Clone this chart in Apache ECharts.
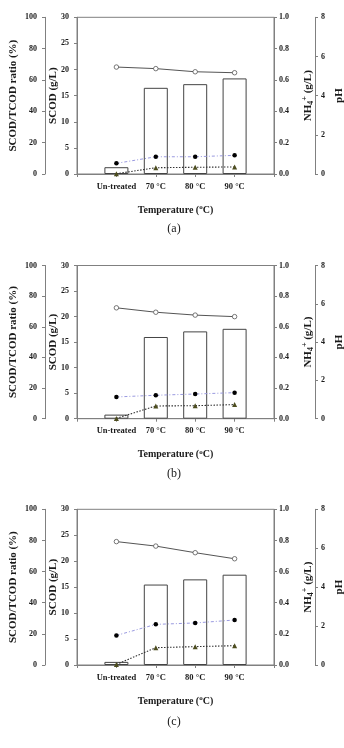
<!DOCTYPE html>
<html>
<head>
<meta charset="utf-8">
<script src="https://cdn.jsdelivr.net/npm/echarts@6/dist/echarts.min.js"></script>
<style>
html,body{margin:0;padding:0;background:#fff;}
#chart{width:344px;height:748px;}
</style>
</head>
<body>
<div id="chart"></div>
<script>
// ---- data ----
const categories = ['', 'Un-treated', '70 °C', '80 °C', '90 °C', ''];

// panel (a)
const scodA  = [1.3, 16.5, 17.2, 18.3];
const phA    = [5.46, 5.38, 5.22, 5.17];
const nh4A   = [0.068, 0.110, 0.110, 0.119];
const ratioA = [0.2, 4.0, 4.3, 4.5];

// panel (b)
const scodB  = [0.8, 16.0, 17.1, 17.6];
const phB    = [5.79, 5.56, 5.41, 5.33];
const nh4B   = [0.142, 0.153, 0.161, 0.170];
const ratioB = [0.2, 8.3, 8.5, 9.2];

// panel (c)
const scodC  = [0.6, 15.5, 16.5, 17.4];
const phC    = [6.34, 6.11, 5.77, 5.46];
const nh4C   = [0.190, 0.261, 0.270, 0.289];
const ratioC = [0.4, 11.1, 11.8, 12.4];

const panelLabels = ['(a)', '(b)', '(c)'];
const panelData = [
  {scod: scodA, ph: phA, nh4: nh4A, ratio: ratioA},
  {scod: scodB, ph: phB, nh4: nh4B, ratio: ratioB},
  {scod: scodC, ph: phC, nh4: nh4C, ratio: ratioC}
];

// ---- layout ----
const gridTops = [17.3, 265.5, 509.3];
const gridHeights = [156.7, 153.2, 155.7];
const labelYs = [229, 474, 722];
const GRID_LEFT = 77, GRID_W = 197, RATIO_OFF = 32, PH_OFF = 41;

const FONT = 'Liberation Serif, Times New Roman, serif';
const AX = '#808080';
const TXT = '#1a1a1a';

function pad(arr) { return ['-'].concat(arr, ['-']); }

const grids = [], xAxes = [], yAxes = [], series = [], graphics = [];

panelData.forEach((p, i) => {
  grids.push({left: GRID_LEFT, width: GRID_W, top: gridTops[i], height: gridHeights[i],
    outerBoundsMode: 'none', containLabel: false,
    show: true, borderColor: AX, borderWidth: 1, backgroundColor: 'transparent'});
  xAxes.push({
    type: 'category', gridIndex: i, data: categories, boundaryGap: false,
    axisLine: {lineStyle: {color: AX, width: 1}},
    axisTick: {show: true, length: 3, lineStyle: {color: AX}},
    axisLabel: {interval: 0, margin: 8, fontFamily: FONT, fontWeight: 'bold', fontSize: 8.5, color: TXT},
    name: '{t|Temperature (}{s|o}{t|C)}',
    nameLocation: 'middle', nameGap: 30, nameMoveOverlap: false,
    nameTextStyle: {rich: {
      t: {fontFamily: FONT, fontWeight: 'bold', fontSize: 10, color: TXT, lineHeight: 12},
      s: {fontFamily: FONT, fontWeight: 'bold', fontSize: 7, color: TXT, verticalAlign: 'top', lineHeight: 8}
    }}
  });
  const lbl = {fontFamily: FONT, fontWeight: 'bold', fontSize: 8, color: TXT};
  const nameStyle = {fontFamily: FONT, fontWeight: 'bold', fontSize: 11, color: TXT};
  function yAx(extra) {
    return Object.assign({
      type: 'value', gridIndex: i,
      splitLine: {show: false},
      axisLine: {show: true, onZero: false, lineStyle: {color: AX, width: 1}},
      axisTick: {show: true, length: 3, lineStyle: {color: AX}},
      nameLocation: 'middle', nameRotate: 90, nameMoveOverlap: false
    }, extra);
  }
  // ratio axis (outer left)
  yAxes.push(yAx({
    position: 'left', offset: RATIO_OFF, min: 0, max: 100, interval: 20,
    axisLabel: Object.assign({margin: 8}, lbl),
    name: 'SCOD/TCOD ratio (%)', nameGap: 26, nameTextStyle: nameStyle
  }));
  // SCOD axis
  yAxes.push(yAx({
    position: 'left', offset: 0, min: 0, max: 30, interval: 5,
    axisLabel: Object.assign({margin: 8}, lbl),
    name: 'SCOD (g/L)', nameGap: 18, nameTextStyle: nameStyle
  }));
  // NH4 axis
  yAxes.push(yAx({
    position: 'right', offset: 0, min: 0, max: 1, interval: 0.2,
    axisLabel: Object.assign({margin: 5, formatter: v => v.toFixed(1)}, lbl),
    name: '{t|NH}{sub|4}{sup|+}{t| (g/L)}', nameGap: 27,
    nameTextStyle: {rich: {
      t: {fontFamily: FONT, fontWeight: 'bold', fontSize: 11, color: TXT, lineHeight: 14},
      sub: {fontFamily: FONT, fontWeight: 'bold', fontSize: 8, color: TXT, verticalAlign: 'bottom', lineHeight: 8},
      sup: {fontFamily: FONT, fontWeight: 'bold', fontSize: 8, color: TXT, verticalAlign: 'top', lineHeight: 8}
    }}
  }));
  // pH axis (outer right)
  yAxes.push(yAx({
    position: 'right', offset: PH_OFF, min: 0, max: 8, interval: 2,
    axisLabel: Object.assign({margin: 6}, lbl),
    name: 'pH', nameGap: 19, nameTextStyle: nameStyle
  }));
  const yb = i * 4;
  series.push({
    type: 'bar', xAxisIndex: i, yAxisIndex: yb + 1, data: pad(p.scod), barWidth: 24, z: 1,
    itemStyle: {color: '#fff', borderColor: '#444', borderWidth: 1}, silent: true
  });
  series.push({
    type: 'line', xAxisIndex: i, yAxisIndex: yb + 3, data: pad(p.ph), z: 3,
    symbol: 'circle', symbolSize: 4.5, showSymbol: true,
    lineStyle: {color: '#555', width: 1},
    itemStyle: {color: '#fff', borderColor: '#555', borderWidth: 0.8}
  });
  series.push({
    type: 'line', xAxisIndex: i, yAxisIndex: yb + 2, data: pad(p.nh4), z: 3,
    symbol: 'circle', symbolSize: 4.5,
    lineStyle: {color: '#9a9ae0', width: 1, type: [3, 2, 1, 2]},
    itemStyle: {color: '#000'}
  });
  series.push({
    type: 'line', xAxisIndex: i, yAxisIndex: yb + 0, data: pad(p.ratio), z: 3,
    symbol: 'triangle', symbolSize: 5,
    lineStyle: {color: '#333', width: 1.1, type: [1.5, 1.5]},
    itemStyle: {color: '#4d4d1f'}
  });
  graphics.push({
    type: 'text', x: 174, y: labelYs[i],
    style: {text: panelLabels[i], font: '12px ' + FONT, fill: TXT, textAlign: 'center', textVerticalAlign: 'middle'}
  });
  // axis lines for the two offset axes (derived from the layout constants)
  const xl = GRID_LEFT - RATIO_OFF + 0.5, xr = GRID_LEFT + GRID_W + PH_OFF + 0.5;
  const y1 = gridTops[i], y2 = gridTops[i] + gridHeights[i];
  graphics.push({type: 'line', silent: true, shape: {x1: xl, y1: y1, x2: xl, y2: y2}, style: {stroke: AX, lineWidth: 1}});
  graphics.push({type: 'line', silent: true, shape: {x1: xr, y1: y1, x2: xr, y2: y2}, style: {stroke: AX, lineWidth: 1}});
});

const chart = echarts.init(document.getElementById('chart'), null, {renderer: 'canvas'});
chart.setOption({
  animation: false,
  backgroundColor: '#fff',
  grid: grids, xAxis: xAxes, yAxis: yAxes, series: series, graphic: graphics
});
</script>
</body>
</html>
